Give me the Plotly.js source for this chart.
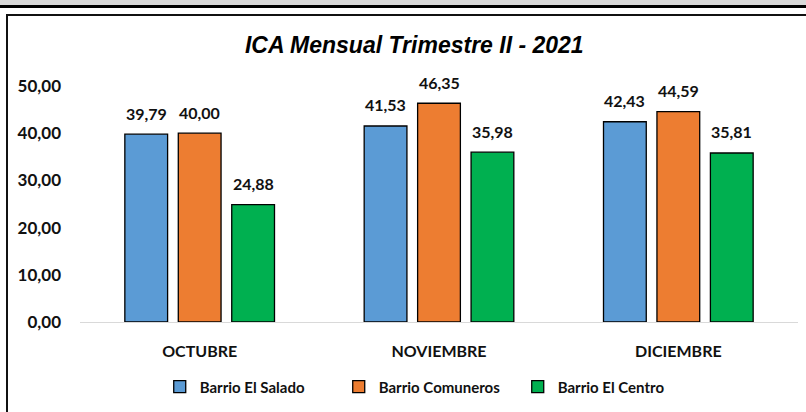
<!DOCTYPE html>
<html>
<head>
<meta charset="utf-8">
<script src="https://cdn.plot.ly/plotly-3.0.1.min.js"></script>
<style>
  html, body { margin: 0; padding: 0; background: #ffffff; }
  #wrap { position: relative; width: 806px; height: 412px; overflow: hidden; }
  #chart { position: absolute; left: 0; top: 0; width: 806px; height: 412px; }
  .deco { position: absolute; pointer-events: none; }
</style>
</head>
<body>
<div id="wrap">
  <div id="chart"></div>
  <div class="deco" style="left:0;top:0;width:806px;height:5px;background:#d9d9d9;"></div>
  <div class="deco" style="left:0;top:5px;width:806px;height:2.5px;background:#000;"></div>
  <div class="deco" style="left:6px;top:14px;width:800px;height:1.5px;background:#111;"></div>
  <div class="deco" style="left:6px;top:14px;width:1.5px;height:398px;background:#111;"></div>
</div>
<script>
const categories = ["OCTUBRE", "NOVIEMBRE", "DICIEMBRE"];
const seriesNames = ["Barrio El Salado", "Barrio Comuneros", "Barrio El Centro"];
const elSalado = [39.79, 41.53, 42.43];
const comuneros = [40.00, 46.35, 44.59];
const elCentro = [24.88, 35.98, 35.81];
const colors = ["#5B9BD5", "#ED7D31", "#00B050"];
const yTicks = [0, 10, 20, 30, 40, 50];

const allSeries = [elSalado, comuneros, elCentro];
const bargap = 0.33;
const bargroupgap = 0.2;
const labelFont = "Lato, 'Open Sans', sans-serif";

const traces = allSeries.map((vals, i) => ({
  type: "bar",
  name: seriesNames[i],
  x: categories,
  y: vals,
  marker: { color: colors[i], line: { color: "#000000", width: 1.3 } },
  hoverinfo: "none"
}));

// data labels placed through the axis scales
const slot = (1 - bargap) / allSeries.length;
const annotations = [];
allSeries.forEach((vals, s) => {
  vals.forEach((v, c) => {
    annotations.push({
      x: c + (s - (allSeries.length - 1) / 2) * slot,
      y: v,
      xref: "x", yref: "y",
      text: v.toFixed(2).replace(".", ","),
      showarrow: false,
      yanchor: "middle",
      yshift: 21,
      font: { family: labelFont, size: 16, color: "#111111", weight: "bold" }
    });
  });
});

const layout = {
  width: 806,
  height: 412,
  margin: { l: 80, r: 8, t: 86, b: 86 },
  paper_bgcolor: "rgba(0,0,0,0)",
  plot_bgcolor: "rgba(0,0,0,0)",
  separators: ",.",
  barmode: "group",
  bargap: bargap,
  bargroupgap: bargroupgap,
  showlegend: true,
  title: {
    text: "<b><i>ICA Mensual Trimestre II - 2021</i></b>",
    xref: "container", yref: "container",
    x: 0.514, y: 1 - 45 / 412,
    xanchor: "center", yanchor: "middle",
    font: { family: "'Liberation Sans', Arial, sans-serif", size: 23, color: "#000000" }
  },
  xaxis: {
    type: "category",
    showgrid: false,
    showline: true,
    linecolor: "#d9d9d9",
    linewidth: 1,
    ticks: "",
    ticklabelstandoff: 15,
    tickfont: { family: labelFont, size: 16, color: "#111111", weight: "bold" },
    fixedrange: true
  },
  yaxis: {
    range: [0, 50],
    tickvals: yTicks,
    tickformat: ".2f",
    showgrid: false,
    zeroline: false,
    showline: false,
    ticks: "",
    ticklabelstandoff: 18,
    tickfont: { family: labelFont, size: 17, color: "#111111", weight: "bold" },
    fixedrange: true
  },
  legend: {
    orientation: "h",
    x: 0.485, xanchor: "center",
    y: -0.275, yanchor: "middle",
    entrywidth: 134,
    entrywidthmode: "pixels",
    font: { family: labelFont, size: 15, color: "#111111", weight: "bold" },
    itemclick: false, itemdoubleclick: false
  },
  annotations: annotations
};

Plotly.newPlot("chart", traces, layout, { displayModeBar: false, staticPlot: true });
</script>
</body>
</html>
